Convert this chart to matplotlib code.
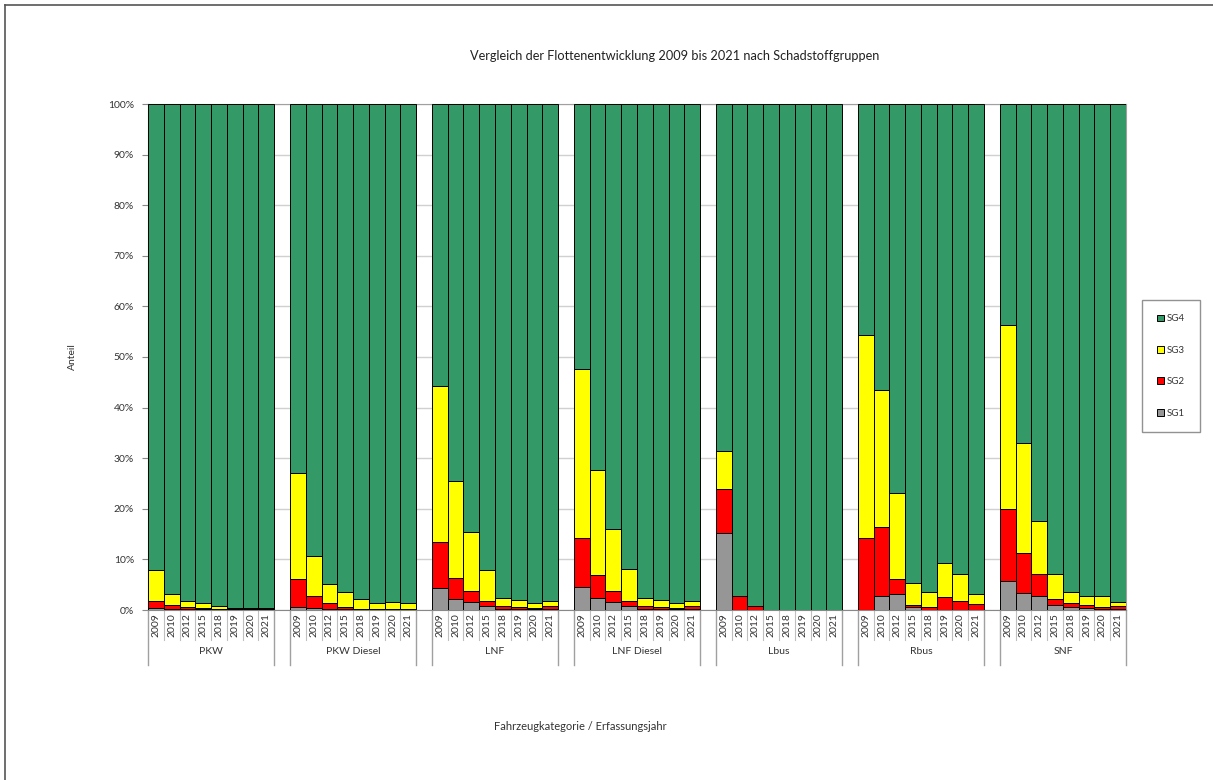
import numpy as np
import matplotlib
matplotlib.use("Agg")
import matplotlib.pyplot as plt
from matplotlib.lines import Line2D
from matplotlib.patches import Patch
import matplotlib.transforms as mtransforms

plt.rcParams['font.family'] = ['Lato', 'DejaVu Sans']

# Kategorien und Erfassungsjahre
groups = ["PKW", "PKW Diesel", "LNF", "LNF Diesel", "Lbus", "Rbus", "SNF"]
years = ["2009", "2010", "2012", "2015", "2018", "2019", "2020", "2021"]

# Anteile in % je Schadstoffgruppe (pro Kategorie: 2009..2021)
sg1 = [
    [0.3, 0.2, 0.1, 0.1, 0.05, 0.0, 0.0, 0.0],      # PKW
    [0.5, 0.3, 0.2, 0.1, 0.05, 0.0, 0.0, 0.0],      # PKW Diesel
    [4.3, 2.1, 1.65, 0.8, 0.2, 0.1, 0.1, 0.1],      # LNF
    [4.6, 2.3, 1.65, 0.8, 0.2, 0.1, 0.1, 0.1],      # LNF Diesel
    [15.3, 0.0, 0.0, 0.0, 0.0, 0.0, 0.0, 0.0],      # Lbus
    [0.0, 2.8, 3.1, 0.5, 0.0, 0.0, 0.0, 0.0],       # Rbus
    [5.8, 3.4, 2.8, 1.0, 0.5, 0.3, 0.2, 0.2],       # SNF
]
sg2 = [
    [1.5, 0.8, 0.5, 0.2, 0.15, 0.1, 0.1, 0.1],
    [5.6, 2.5, 1.1, 0.5, 0.2, 0.15, 0.15, 0.1],
    [9.2, 4.3, 2.1, 1.05, 0.6, 0.4, 0.3, 0.7],
    [9.7, 4.6, 2.15, 1.05, 0.6, 0.4, 0.3, 0.6],
    [8.7, 2.8, 0.8, 0.0, 0.0, 0.0, 0.0, 0.0],
    [14.2, 13.7, 3.0, 0.5, 0.65, 2.5, 1.8, 1.2],
    [14.2, 7.9, 4.3, 1.1, 0.8, 0.7, 0.45, 0.6],
]
sg3 = [
    [6.1, 2.2, 1.2, 1.0, 0.6, 0.3, 0.3, 0.3],
    [20.9, 7.9, 3.8, 3.0, 1.9, 1.15, 1.45, 1.2],
    [30.8, 19.1, 11.75, 6.05, 1.5, 1.5, 1.05, 1.0],
    [33.3, 20.8, 12.3, 6.35, 1.6, 1.5, 1.05, 1.15],
    [7.4, 0.0, 0.0, 0.0, 0.0, 0.0, 0.0, 0.0],
    [40.1, 27.0, 17.1, 4.4, 2.85, 6.7, 5.4, 1.9],
    [36.3, 21.8, 10.4, 5.1, 2.3, 1.8, 2.15, 0.85],
]

c_sg1 = "#969696"
c_sg2 = "#ff0000"
c_sg3 = "#ffff00"
c_sg4 = "#339966"

fig = plt.figure(figsize=(12.13, 7.80), dpi=100)
ax = fig.add_axes([148/1213, 1-610/780, (1126-148)/1213, (610-104)/780])

# Rahmen des Diagrammbereichs (oben und links)
fig.add_artist(Line2D([5/1213, 5/1213], [0, 1-5/780], color="#555555", lw=1.2))
fig.add_artist(Line2D([5/1213, 1], [1-5/780, 1-5/780], color="#555555", lw=1.2))

n = len(years)
step = n + 1
for g in range(len(groups)):
    x = np.arange(n) + g*step
    a = np.array(sg1[g])
    b = np.array(sg2[g])
    c = np.array(sg3[g])
    d = 100 - a - b - c
    kw = dict(width=1.0, edgecolor="black", linewidth=0.7, zorder=3)
    ax.bar(x, a, color=c_sg1, **kw)
    ax.bar(x, b, bottom=a, color=c_sg2, **kw)
    ax.bar(x, c, bottom=a+b, color=c_sg3, **kw)
    ax.bar(x, d, bottom=a+b+c, color=c_sg4, **kw)

total = len(groups)*step - 1
ax.set_xlim(-0.5, total - 0.5)
ax.set_ylim(0, 100)
ax.set_yticks(np.arange(0, 101, 10))
ax.set_yticklabels([f"{v}%" for v in range(0, 101, 10)], fontsize=7.5, color="#333333")
ax.tick_params(axis="y", length=4, width=0.8, color="#888888", pad=6)
ax.set_xticks([])
ax.yaxis.grid(True, color="#d0d0d0", lw=1.0, zorder=0)
for s in ["top", "right"]:
    ax.spines[s].set_color("#a0a0a0")
ax.spines["left"].set_color("#888888")
ax.spines["bottom"].set_color("#888888")

# mehrstufige Kategorienachse
tr = mtransforms.blended_transform_factory(ax.transData, ax.transAxes)
h = 506.0
y_year = -30/h
y_grp = -55/h
for g, name in enumerate(groups):
    x0 = g*step - 0.5
    x1 = x0 + n
    for xe in (x0, x1):
        ax.add_line(Line2D([xe, xe], [0, y_grp], transform=tr, color="#a0a0a0",
                           lw=1.0, clip_on=False))
    for j in range(1, n):
        ax.add_line(Line2D([x0+j, x0+j], [0, y_year], transform=tr, color="#c0c0c0",
                           lw=0.8, clip_on=False))
    for j, yr in enumerate(years):
        ax.text(x0 + j + 0.5, -15/h, yr, transform=tr, rotation=90, ha="center",
                va="center", fontsize=7.5, color="#333333")
    ax.text((x0 + x1)/2, -41/h, name, transform=tr, ha="center", va="center",
            fontsize=7.5, color="#333333")

fig.text(675/1213, 1-56/780, "Vergleich der Flottenentwicklung 2009 bis 2021 nach Schadstoffgruppen",
         ha="center", va="center", fontsize=9.2, color="#222222")
fig.text(580/1213, 1-727/780, "Fahrzeugkategorie / Erfassungsjahr",
         ha="center", va="center", fontsize=8, color="#333333")
fig.text(72/1213, 1-357/780, "Anteil", rotation=90, ha="center", va="center",
         fontsize=7.5, color="#333333")

handles = [Patch(facecolor=c, edgecolor="black", lw=0.7) for c in (c_sg4, c_sg3, c_sg2, c_sg1)]
leg = fig.legend(handles, ["SG4", "SG3", "SG2", "SG1"], loc="center",
                 bbox_to_anchor=(1171/1213, 1-366/780), fontsize=7, frameon=True,
                 fancybox=False, edgecolor="#777777", handlelength=0.7, handleheight=0.7,
                 handletextpad=0.3, labelspacing=2.3, borderpad=1.5, borderaxespad=0)
leg.get_frame().set_linewidth(1.0)
for t in leg.get_texts():
    t.set_color("#333333")

fig.savefig("out.png", dpi=100)
